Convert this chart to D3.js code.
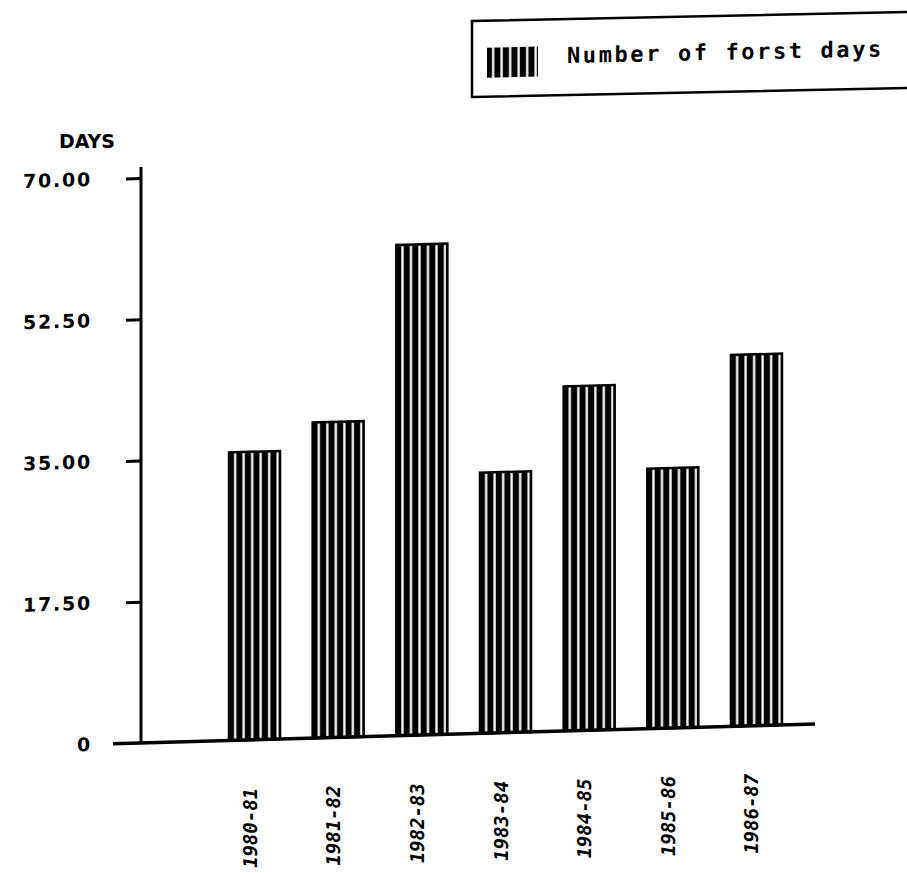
<!DOCTYPE html>
<html><head><meta charset="utf-8">
<script src="https://cdn.jsdelivr.net/npm/d3@7"></script>
<style>body{margin:0;background:#fff}</style>
</head><body>
<svg id="chart" width="907" height="873"></svg>
<script>
// ---- data ----
const categories = ["1980-81","1981-82","1982-83","1983-84","1984-85","1985-86","1986-87"];
const frostDays = [35.7, 39.1, 60.8, 32.3, 42.7, 32.2, 46.0];
const yTickValues = [0, 17.5, 35, 52.5, 70];
const yTickLabels = ["0", "17.50", "35.00", "52.50", "70.00"];
const yAxisTitle = "DAYS";
const legendLabel = "Number of forst days";

// ---- layout ----
const axisX = 141;
const skewDeg = -1.62;
const svg = d3.select("#chart");

const x = d3.scaleBand().domain(categories).range([229, 782]).paddingInner(0.39).paddingOuter(0);
const y = d3.scaleLinear().domain([0, 70]).range([743, 178]);

// stripe pattern
const defs = svg.append("defs");
const pat = defs.append("pattern").attr("id", "stripes")
  .attr("patternUnits", "objectBoundingBox")
  .attr("width", 1/6).attr("height", 1);
pat.append("rect").attr("x", 0).attr("y", 0).attr("width", 30).attr("height", 2000).attr("fill", "#000");
pat.append("rect").attr("x", 5).attr("y", 0).attr("width", 2.3).attr("height", 2000).attr("fill", "#fff");

const plot = svg.append("g")
  .attr("transform", `translate(${axisX},0) skewY(${skewDeg}) translate(${-axisX},0)`);

// bars
plot.selectAll("rect.bar").data(categories).join("rect")
  .attr("class", "bar")
  .attr("x", d => x(d))
  .attr("y", (d, i) => y(frostDays[i]))
  .attr("width", x.bandwidth())
  .attr("height", (d, i) => y(0) - y(frostDays[i]))
  .attr("fill", "url(#stripes)")
  .attr("stroke", "#000").attr("stroke-width", 2.5);

// y axis
const yAxis = d3.axisLeft(y).tickValues(yTickValues).tickSize(15).tickPadding(34)
  .tickFormat(d => yTickLabels[yTickValues.indexOf(d)]);
const gy = plot.append("g").attr("transform", `translate(${axisX},0)`).call(yAxis);
gy.select(".domain").remove();
gy.selectAll(".tick line").attr("stroke", "#000").attr("stroke-width", 3)
  .filter(d => d === 0).remove();
gy.selectAll(".tick text")
  .attr("fill", "#000")
  .style("font-family", "'DejaVu Sans', sans-serif")
  .style("font-weight", "bold")
  .style("font-size", "19px")
  .style("letter-spacing", "1.8px");

plot.append("line")
  .attr("x1", axisX).attr("x2", axisX)
  .attr("y1", y(70) - 11).attr("y2", y(0))
  .attr("stroke", "#000").attr("stroke-width", 3);

// x axis baseline
plot.append("line")
  .attr("x1", axisX - 28).attr("x2", x.range()[1] + 33)
  .attr("y1", y(0)).attr("y2", y(0))
  .attr("stroke", "#000").attr("stroke-width", 3.5);

// x labels
plot.selectAll("text.xl").data(categories).join("text")
  .attr("class", "xl")
  .attr("transform", d => `translate(${x(d) + x.bandwidth()/2 + 2},${y(0) + 48}) rotate(-90)`)
  .attr("text-anchor", "end")
  .style("font-family", "'DejaVu Sans Mono', monospace")
  .style("font-weight", "bold")
  .style("font-style", "italic")
  .style("font-size", "19px")
  .text(d => d);

// y axis title
svg.append("text")
  .attr("x", 115).attr("y", 148)
  .attr("text-anchor", "end")
  .style("font-family", "'DejaVu Sans', sans-serif")
  .style("font-weight", "bold")
  .style("font-size", "19px")
  .text(yAxisTitle);

// legend
const lg = svg.append("g")
  .attr("transform", `translate(472,21) skewY(-1.2)`);
lg.append("rect").attr("x", 0).attr("y", 0).attr("width", 470).attr("height", 76)
  .attr("fill", "none").attr("stroke", "#000").attr("stroke-width", 2.5);
lg.append("rect").attr("x", 15).attr("y", 27).attr("width", x.bandwidth()).attr("height", 30)
  .attr("fill", "url(#stripes)");
lg.append("text").attr("x", 95).attr("y", 44)
  .style("font-family", "'DejaVu Sans Mono', monospace")
  .style("font-weight", "bold")
  .style("font-size", "22px")
  .style("letter-spacing", "2.6px")
  .text(legendLabel);
</script>
</body></html>
